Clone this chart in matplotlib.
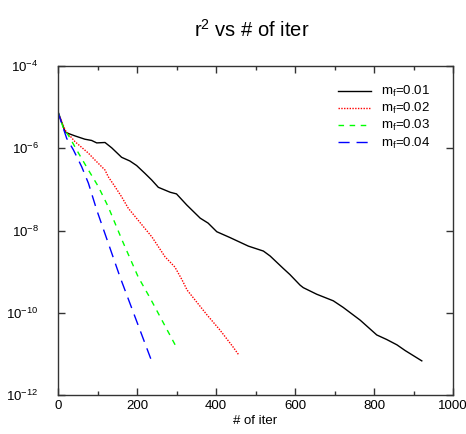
import numpy as np
import matplotlib
matplotlib.use("Agg")
import matplotlib.pyplot as plt
from matplotlib.ticker import FixedLocator, MultipleLocator, LogFormatterMathtext

plt.rcParams['font.family'] = ['Liberation Sans', 'DejaVu Sans']
plt.rcParams['mathtext.fontset'] = 'custom'
plt.rcParams['mathtext.rm'] = 'Liberation Sans'
plt.rcParams['mathtext.it'] = 'Liberation Sans'
plt.rcParams['mathtext.bf'] = 'Liberation Sans:bold'

# data: iteration, log10(r^2)
iter_001 = [0, 18, 26, 43, 68, 85, 98, 119, 136, 161, 182, 199, 220, 237, 254, 284, 300, 326,
            360, 380, 402, 435, 482, 520, 537, 570, 587, 613, 621, 655, 697, 722, 765, 807,
            832, 858, 879, 921]
log_001 = [-5.11, -5.60, -5.64, -5.70, -5.78, -5.81, -5.87, -5.86, -5.99, -6.22, -6.31, -6.42,
           -6.61, -6.77, -6.95, -7.07, -7.11, -7.38, -7.70, -7.82, -8.03, -8.17, -8.38, -8.50,
           -8.62, -8.92, -9.07, -9.33, -9.39, -9.55, -9.71, -9.87, -10.18, -10.54, -10.65,
           -10.78, -10.92, -11.17]

iter_002 = [0, 18, 43, 77, 94, 119, 127, 144, 161, 178, 238, 271, 296, 314, 327, 377, 410, 443, 458]
log_002 = [-5.12, -5.56, -5.84, -6.12, -6.29, -6.53, -6.69, -6.93, -7.18, -7.46, -8.16, -8.64,
           -8.89, -9.20, -9.45, -10.05, -10.42, -10.83, -11.03]

iter_003 = [0, 14, 26, 52, 77, 102, 127, 162, 203, 233, 301]
log_003 = [-5.12, -5.52, -5.68, -6.12, -6.53, -6.93, -7.42, -8.23, -9.13, -9.64, -10.86]

iter_004 = [0, 5, 22, 39, 60, 77, 98, 157, 240]
log_004 = [-5.12, -5.27, -5.76, -6.04, -6.45, -6.85, -7.50, -9.13, -11.25]

labels = ["m$_f$=0.01", "m$_f$=0.02", "m$_f$=0.03", "m$_f$=0.04"]

fig = plt.figure(figsize=(4.66, 4.34), dpi=100)
ax = fig.add_axes([58/466, 1-395/434, (453-58)/466, (395-66)/434])

ax.plot(iter_001, 10**np.array(log_001), color='black', lw=1.0, ls='-', label=labels[0])
ax.plot(iter_002, 10**np.array(log_002), color='#ff0000', lw=1.0, ls=(0, (1, 1)), label=labels[1])
ax.plot(iter_003, 10**np.array(log_003), color='#00ff00', lw=1.0, ls=(0, (4, 4)), label=labels[2])
ax.plot(iter_004, 10**np.array(log_004), color='#0000ff', lw=1.0, ls=(0, (8, 5)), label=labels[3])

ax.set_yscale('log')
ax.set_xlim(0, 1000)
ax.set_ylim(1e-12, 1e-4)
ax.yaxis.set_major_locator(FixedLocator([1e-12, 1e-10, 1e-8, 1e-6, 1e-4]))
ax.yaxis.set_minor_locator(FixedLocator([]))
ax.yaxis.set_major_formatter(LogFormatterMathtext())
ax.xaxis.set_major_locator(MultipleLocator(200))
ax.xaxis.set_minor_locator(MultipleLocator(100))
ax.tick_params(which='both', direction='in', top=True, right=True, labelsize=9.5, color='#333333')
ax.tick_params(which='major', length=5, width=1)
ax.tick_params(which='minor', length=3, width=1)
ax.tick_params(axis='y', pad=14)
for s in ax.spines.values():
    s.set_linewidth(1.0)
    s.set_color('#333333')

ax.set_xlabel("# of iter", fontsize=9.5, labelpad=2)
fig.text(252/466, 1-30/434, "r$^2$ vs # of iter", ha='center', va='center', fontsize=14.5)

leg = ax.legend(loc='upper right', bbox_to_anchor=(1 - 10/395, 1 - 5/329), frameon=False,
                fontsize=9.5, handlelength=2.5, handletextpad=0.7, labelspacing=0.15,
                borderaxespad=0.6)

fig.savefig("out.png", dpi=100)
